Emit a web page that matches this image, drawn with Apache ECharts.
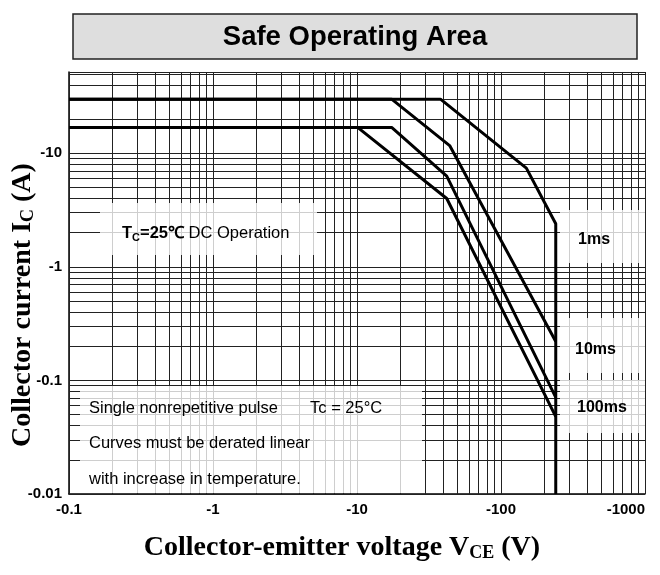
<!DOCTYPE html>
<html>
<head>
<meta charset="utf-8">
<script src="https://cdn.jsdelivr.net/npm/echarts@6/dist/echarts.min.js"></script>
<style>
  body { margin: 0; background: #fff; }
  #soa { width: 660px; height: 575px; }
</style>
</head>
<body>
<div id="soa"></div>
<script>
// SOA curves (V is shown negative on the labels)
var v1ms = [0.1, 38, 150, 240, 240];
var i1ms = [30, 30, 7.4, 2.4, 0.01];
var v10ms = [0.1, 17.4, 44, 240];
var i10ms = [30, 30, 11.7, 0.22];
var v100ms = [0.1, 17.4, 42, 240];
var i100ms = [16.9, 16.9, 6.3, 0.071];
var vDC = [0.1, 10.1, 42, 240];
var iDC = [16.9, 16.9, 4.0, 0.048];

var xDecades = [0.1, 1, 10, 100];
var yDecades = [0.01, 0.1, 1, 10];
var xMin = 0.1, xMax = 1000;
var yMin = 0.01, yMax = 52;

function pairs(xs, ys) {
  return xs.map(function (x, k) { return [x, ys[k]]; });
}

// log grid lines 1..9 per decade
var gridLines = [];
xDecades.forEach(function (d) {
  for (var m = 1; m <= 9; m++) gridLines.push({ xAxis: d * m });
});
gridLines.push({ xAxis: xMax });
yDecades.forEach(function (d) {
  for (var m = 1; m <= 9; m++) {
    if (d * m <= yMax) gridLines.push({ yAxis: d * m });
  }
});
gridLines.push({ yAxis: yMax });

var chart = echarts.init(document.getElementById("soa"));

function curve(xs, ys) {
  return {
    type: "line",
    data: pairs(xs, ys),
    showSymbol: false,
    symbol: "none",
    z: 4,
    lineStyle: { color: "#000", width: 3 },
    silent: true,
  };
}

var sub = { fontSize: 18, fontWeight: "bold", fontFamily: "Liberation Serif", verticalAlign: "bottom", lineHeight: 22 };

var option = {
  animation: false,
  grid: { left: 69, right: 15, top: 72, bottom: 81, containLabel: false, outerBoundsMode: "none" },
  xAxis: {
    type: "log",
    logBase: 10,
    min: xMin,
    max: xMax,
    name: "Collector-emitter voltage V{s|CE} (V)",
    nameLocation: "middle",
    nameGap: 40,
    nameMoveOverlap: false,
    nameTextStyle: {
      fontFamily: "Liberation Serif",
      fontWeight: "bold",
      fontSize: 28,
      color: "#000",
      padding: [0, 30, 0, 0],
      rich: { s: sub },
    },
    axisLine: { lineStyle: { color: "#000", width: 1.5 } },
    axisTick: { show: false },
    splitLine: { show: false },
    axisLabel: {
      color: "#000",
      fontFamily: "Liberation Sans",
      fontWeight: "bold",
      fontSize: 15,
      margin: 8,
      alignMaxLabel: "right",
      formatter: function (v) { return "-" + (+v.toPrecision(3)); },
    },
  },
  yAxis: {
    type: "log",
    logBase: 10,
    min: yMin,
    max: yMax,
    name: "Collector current I{s|C} (A)",
    nameLocation: "middle",
    nameGap: 32,
    nameMoveOverlap: false,
    nameTextStyle: {
      fontFamily: "Liberation Serif",
      fontWeight: "bold",
      fontSize: 28,
      color: "#000",
      padding: [0, 44, 0, 0],
      rich: { s: sub },
    },
    axisLine: { show: true, lineStyle: { color: "#000", width: 1.5 } },
    axisTick: { show: false },
    splitLine: { show: false },
    axisLabel: {
      color: "#000",
      fontFamily: "Liberation Sans",
      fontWeight: "bold",
      fontSize: 15,
      margin: 7,
      showMaxLabel: false,
      formatter: function (v) { return "-" + (+v.toPrecision(3)); },
    },
  },
  graphic: [
    // title box
    { type: "rect", shape: { x: 73, y: 14, width: 564, height: 45 },
      style: { fill: "#dedede", stroke: "#222", lineWidth: 1.5 }, z: 10 },
    { type: "text", x: 355, y: 37, z: 11,
      style: { text: "Safe Operating Area", font: "bold 27.5px 'Liberation Sans'", fill: "#000",
               align: "center", verticalAlign: "middle" } },
    // whitish label boxes over the grid
    { type: "rect", shape: { x: 100, y: 203, width: 217, height: 52 },
      style: { fill: "rgba(255,255,255,0.78)" }, z: 10 },
    { type: "rect", shape: { x: 80, y: 386, width: 342, height: 107 },
      style: { fill: "rgba(255,255,255,0.78)" }, z: 10 },
    { type: "rect", shape: { x: 560, y: 210, width: 85, height: 53 },
      style: { fill: "rgba(255,255,255,0.78)" }, z: 10 },
    { type: "rect", shape: { x: 560, y: 318, width: 85, height: 55 },
      style: { fill: "rgba(255,255,255,0.78)" }, z: 10 },
    { type: "rect", shape: { x: 560, y: 380, width: 85, height: 53 },
      style: { fill: "rgba(255,255,255,0.78)" }, z: 10 },
    { type: "text", x: 122, y: 233, z: 11,
      style: {
        text: "{b|T}{bs|C}{b|=25℃} DC Operation",
        font: "16.5px 'Liberation Sans'", fill: "#000", verticalAlign: "middle",
        rich: {
          b: { fontWeight: "bold", fontSize: 16.5, fontFamily: "Liberation Sans", lineHeight: 20 },
          bs: { fontWeight: "bold", fontSize: 11, fontFamily: "Liberation Sans", verticalAlign: "bottom", lineHeight: 14 },
        },
      } },
    { type: "text", x: 89, y: 408, z: 11,
      style: { text: "Single nonrepetitive pulse       Tc = 25°C", font: "16.5px 'Liberation Sans'",
               fill: "#000", verticalAlign: "middle" } },
    { type: "text", x: 89, y: 443, z: 11,
      style: { text: "Curves must be derated linear", font: "16.5px 'Liberation Sans'",
               fill: "#000", verticalAlign: "middle" } },
    { type: "text", x: 89, y: 479, z: 11,
      style: { text: "with increase in temperature.", font: "16.5px 'Liberation Sans'",
               fill: "#000", verticalAlign: "middle" } },
    { type: "text", x: 578, y: 240, z: 11,
      style: { text: "1ms", font: "bold 16px 'Liberation Sans'", fill: "#000", verticalAlign: "middle" } },
    { type: "text", x: 575, y: 350, z: 11,
      style: { text: "10ms", font: "bold 16px 'Liberation Sans'", fill: "#000", verticalAlign: "middle" } },
    { type: "text", x: 577, y: 408, z: 11,
      style: { text: "100ms", font: "bold 16px 'Liberation Sans'", fill: "#000", verticalAlign: "middle" } },
  ],
  series: [
    {
      name: "grid",
      type: "line",
      data: [],
      silent: true,
      markLine: {
        silent: true,
        symbol: "none",
        z: 1,
        label: { show: false },
        lineStyle: { color: "#222", width: 1, type: "solid" },
        data: gridLines,
      },
    },
    curve(v1ms, i1ms),
    curve(v10ms, i10ms),
    curve(v100ms, i100ms),
    curve(vDC, iDC),
  ],
};

chart.setOption(option);
</script>
</body>
</html>
